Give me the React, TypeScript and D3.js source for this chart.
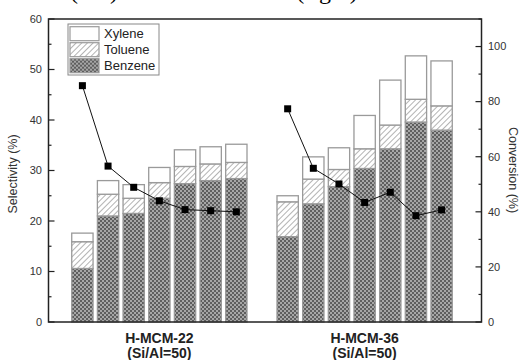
import React from "react"
import * as d3 from "d3"

// bar positions: 7 bars per catalyst, one empty slot between the groups
const groups = ["H-MCM-22", "H-MCM-36"]
const slots = ["a1", "a2", "a3", "a4", "a5", "a6", "a7", "gap", "b1", "b2", "b3", "b4", "b5", "b6", "b7"]
const barKeys = slots.filter((s) => s !== "gap")

// selectivity (%) of each product, stacked
const benzene = [10.6, 21.0, 21.5, 24.5, 27.4, 28.0, 28.4, 16.9, 23.4, 26.8, 30.4, 34.3, 39.6, 38.0]
const toluene = [5.3, 4.3, 3.0, 3.1, 3.4, 3.3, 3.2, 6.9, 4.9, 3.4, 3.9, 4.7, 4.5, 4.8]
const xylene = [1.7, 2.7, 2.7, 3.0, 3.3, 3.4, 3.6, 1.2, 4.4, 4.3, 6.6, 8.9, 8.6, 8.9]

// conversion (%) per bar
const conv22 = [85.8, 56.6, 48.9, 44.0, 40.8, 40.4, 40.0]
const conv36 = [77.4, 55.8, 50.1, 43.4, 47.1, 38.6, 40.7]

const leftTicks = [0, 10, 20, 30, 40, 50, 60]
const rightTicks = [0, 20, 40, 60, 80, 100]

const W = 519
const H = 360
const L = 48.5
const R = 481.5
const T = 19
const B = 322
const FONT = "'Liberation Sans', Arial, sans-serif"

const x = d3.scaleBand().domain(slots).range([67.9, 456.1]).padding(0.13)
const yL = d3.scaleLinear().domain([0, 60]).range([B, T])
const yR = d3.scaleLinear().domain([0, 110]).range([B, T])

const rows = barKeys.map((k, i) => ({ key: k, benzene: benzene[i], toluene: toluene[i], xylene: xylene[i] }))
const series = d3.stack().keys(["benzene", "toluene", "xylene"])(rows as any)
const fills: Record<string, string> = { benzene: "url(#checker)", toluene: "url(#hatch)", xylene: "#fff" }

const lineGen = d3
  .line<number>()
  .x((d, i) => 0)
  .y((d) => yR(d))

const convLines = [
  { keys: barKeys.slice(0, 7), vals: conv22 },
  { keys: barKeys.slice(7), vals: conv36 },
]

const legendItems = [
  { name: "Xylene", fill: "#fff" },
  { name: "Toluene", fill: "url(#hatch)" },
  { name: "Benzene", fill: "url(#checker)" },
]

export default function App() {
  const cx = (k: string) => (x(k) as number) + x.bandwidth() / 2
  const bw = x.bandwidth()
  return (
    <svg width={W} height={H} style={{ position: "absolute", left: 0, top: 0 }} fontFamily={FONT}>
      <defs>
        <pattern id="checker" width="4" height="4" patternUnits="userSpaceOnUse">
          <rect width="4" height="4" fill="#a6a6a6" />
          <rect width="2" height="2" fill="#5e5e5e" />
          <rect x="2" y="2" width="2" height="2" fill="#5e5e5e" />
        </pattern>
        <pattern id="hatch" width="4" height="4" patternUnits="userSpaceOnUse" patternTransform="rotate(45)">
          <rect width="4" height="4" fill="#fff" />
          <line x1="0" y1="0" x2="0" y2="4" stroke="#a0a0a0" strokeWidth="1.6" />
        </pattern>
      </defs>

      {/* cropped caption from above */}
      <text x={94} y={-1} textAnchor="middle" fontFamily="'Liberation Serif', serif" fontSize={24}>(left)</text>
      <text x={327} y={-1} textAnchor="middle" fontFamily="'Liberation Serif', serif" fontSize={24}>(right)</text>

      {/* bars */}
      {series.map((s) =>
        s.map((d, i) => (
          <rect
            key={s.key + i}
            x={(x(barKeys[i]) as number) + 0.5}
            y={yL(d[1])}
            width={bw - 1}
            height={yL(d[0]) - yL(d[1])}
            fill={fills[s.key]}
            stroke="#9a9a9a"
            strokeWidth={1.3}
          />
        ))
      )}

      {/* conversion lines */}
      {convLines.map((g, gi) => (
        <g key={gi}>
          <path
            d={d3.line<number>().x((d, i) => cx(g.keys[i])).y((d) => yR(d))(g.vals) || ""}
            fill="none"
            stroke="#111"
            strokeWidth={1}
          />
          {g.vals.map((v, i) => (
            <rect key={i} x={cx(g.keys[i]) - 3.5} y={yR(v) - 3.5} width={7} height={7} fill="#000" />
          ))}
        </g>
      ))}

      {/* frame */}
      <rect x={L} y={T} width={R - L} height={B - T} fill="none" stroke="#222" strokeWidth={1.5} />

      {/* left axis */}
      {d3.range(0, 61, 5).map((v) => (
        <line key={"lt" + v} x1={L} x2={L + (v % 10 === 0 ? 6 : 3)} y1={yL(v)} y2={yL(v)} stroke="#222" strokeWidth={1.2} />
      ))}
      {leftTicks.map((v) => (
        <text key={"ll" + v} x={42} y={yL(v)} dy="0.35em" textAnchor="end" fontSize={11} fill="#333">
          {v}
        </text>
      ))}
      <text transform={`translate(17,174) rotate(-90)`} textAnchor="middle" fontSize={12.5} fill="#333">
        Selectivity (%)
      </text>

      {/* right axis */}
      {d3.range(0, 111, 10).map((v) => (
        <line key={"rt" + v} x1={R} x2={R - (v % 20 === 0 ? 6 : 3)} y1={yR(v)} y2={yR(v)} stroke="#222" strokeWidth={1.2} />
      ))}
      {rightTicks.map((v) => (
        <text key={"rl" + v} x={488} y={yR(v)} dy="0.35em" textAnchor="start" fontSize={11} fill="#333">
          {v}
        </text>
      ))}
      <text transform={`translate(509,170) rotate(90)`} textAnchor="middle" fontSize={12.5} fill="#333">
        Conversion (%)
      </text>

      {/* group labels */}
      {groups.map((gName, gi) => {
        const c = cx(barKeys[gi * 7 + 3])
        return (
          <g key={gName} fontWeight="bold" fontSize={14} fill="#222" textAnchor="middle">
            <text x={c} y={343}>{gName}</text>
            <text x={c} y={358}>(Si/Al=50)</text>
          </g>
        )
      })}

      {/* legend */}
      <rect x={68} y={24} width={91} height={51} fill="#fff" stroke="#888" strokeWidth={1} />
      {legendItems.map((it, i) => (
        <g key={it.name} transform={`translate(70,${26.7 + i * 16})`}>
          <rect width={29} height={14} fill={it.fill} stroke="#9a9a9a" strokeWidth={1.2} />
          <text x={34} y={7} dy="0.35em" fontSize={13} fill="#222">
            {it.name}
          </text>
        </g>
      ))}
    </svg>
  )
}
